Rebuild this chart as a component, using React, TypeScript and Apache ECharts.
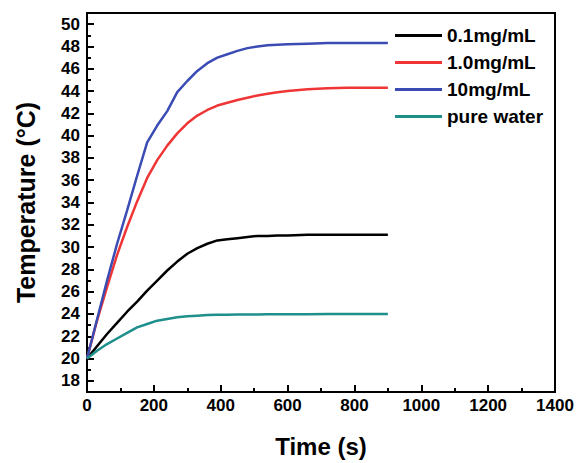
import React, { useEffect, useRef } from "react";
import * as echarts from "echarts";

const times = [0, 30, 60, 90, 120, 150, 180, 210, 240, 270, 300, 330, 360, 390, 420, 450, 480, 510, 540, 570, 600, 660, 720, 780, 840, 900];
const black01 = [20, 21.1, 22.2, 23.2, 24.2, 25.1, 26.1, 27.0, 27.9, 28.7, 29.4, 29.9, 30.3, 30.6, 30.7, 30.8, 30.9, 31.0, 31.0, 31.05, 31.05, 31.1, 31.1, 31.1, 31.1, 31.1];
const red10 = [20, 23.4, 26.4, 29.3, 31.8, 34.1, 36.2, 37.8, 39.1, 40.2, 41.1, 41.8, 42.3, 42.7, 42.95, 43.2, 43.4, 43.6, 43.75, 43.9, 44.0, 44.15, 44.25, 44.3, 44.3, 44.3];
const blue100 = [20, 23.5, 27.0, 30.3, 33.3, 36.4, 39.4, 40.9, 42.2, 43.9, 44.9, 45.8, 46.5, 47.0, 47.3, 47.6, 47.85, 48.0, 48.1, 48.15, 48.2, 48.25, 48.3, 48.3, 48.3, 48.3];
const water = [20, 20.7, 21.3, 21.8, 22.3, 22.8, 23.1, 23.4, 23.55, 23.7, 23.8, 23.85, 23.9, 23.93, 23.94, 23.95, 23.96, 23.96, 23.97, 23.97, 23.97, 23.98, 24.0, 24.0, 24.0, 24.0];

const seriesNames = ["0.1mg/mL", "1.0mg/mL", "10mg/mL", "pure water"];
const seriesColors = ["#000000", "#ef3535", "#3a4cb4", "#1f8f8c"];
const yMajorTicks = [18, 20, 22, 24, 26, 28, 30, 32, 34, 36, 38, 40, 42, 44, 46, 48, 50];
const yMinorTicks = [19, 21, 23, 25, 27, 29, 31, 33, 35, 37, 39, 41, 43, 45, 47, 49];

const FONT = "'Liberation Sans', Arial, sans-serif";

export default function App() {
  const ref = useRef<HTMLDivElement>(null);
  useEffect(() => {
    if (!ref.current) return;
    const chart = echarts.init(ref.current, null, { renderer: "svg" });
    const allData = [black01, red10, blue100, water];
    chart.setOption({
      animation: false,
      backgroundColor: "#ffffff",
      textStyle: { fontFamily: FONT },
      grid: {
        left: 87,
        right: 22,
        top: 13,
        bottom: 66,
        show: true,
        borderColor: "#000",
        borderWidth: 2,
        containLabel: false,
      },
      legend: {
        orient: "vertical",
        left: 390,
        top: 21,
        icon: "rect",
        itemWidth: 47,
        itemHeight: 3,
        itemGap: 8,
        data: seriesNames,
        textStyle: { fontSize: 19, fontWeight: "bold", color: "#000", fontFamily: FONT, lineHeight: 19 },
      },
      xAxis: {
        type: "value",
        min: 0,
        max: 1400,
        interval: 200,
        name: "Time (s)",
        nameLocation: "middle",
        nameGap: 42,
        nameTextStyle: { fontSize: 24, fontWeight: "bold", color: "#000", fontFamily: FONT },
        axisLine: { show: true, lineStyle: { color: "#000", width: 2 } },
        axisTick: { show: true, inside: true, length: 7, lineStyle: { color: "#000", width: 2 } },
        minorTick: { show: true, splitNumber: 2, length: 4, lineStyle: { color: "#000", width: 2 } },
        splitLine: { show: false },
        axisLabel: {
          fontSize: 17,
          fontWeight: "bold",
          color: "#000",
          margin: 5,
          fontFamily: FONT,
          formatter: (v: number) => String(v),
        },
      },
      yAxis: [
        {
          type: "value",
          min: 17,
          max: 51,
          interval: 1,
          position: "left",
          name: "Temperature (°C)",
          nameLocation: "middle",
          nameGap: 49,
          nameTextStyle: { fontSize: 25, fontWeight: "bold", color: "#000", fontFamily: FONT },
          axisLine: { show: true, lineStyle: { color: "#000", width: 2 } },
          axisTick: { show: true, inside: true, length: 7, customValues: yMajorTicks, lineStyle: { color: "#000", width: 2 } },
          splitLine: { show: false },
          axisLabel: {
            fontSize: 17,
            fontWeight: "bold",
            color: "#000",
            margin: 7,
            customValues: yMajorTicks,
            fontFamily: FONT,
            formatter: (v: number) => String(v),
          },
        },
        {
          type: "value",
          min: 17,
          max: 51,
          interval: 1,
          position: "left",
          axisLine: { show: false },
          axisTick: { show: true, inside: true, length: 4, customValues: yMinorTicks, lineStyle: { color: "#000", width: 2 } },
          splitLine: { show: false },
          axisLabel: { show: false },
        },
      ],
      series: seriesNames.map((name, i) => ({
        name,
        type: "line",
        yAxisIndex: 0,
        symbol: "none",
        data: times.map((t, j) => [t, allData[i][j]]),
        lineStyle: { color: seriesColors[i], width: 2.5 },
        itemStyle: { color: seriesColors[i] },
      })),
    });
    return () => chart.dispose();
  }, []);
  return <div ref={ref} style={{ position: "fixed", left: 0, top: 0, width: 577, height: 463 }} />;
}
